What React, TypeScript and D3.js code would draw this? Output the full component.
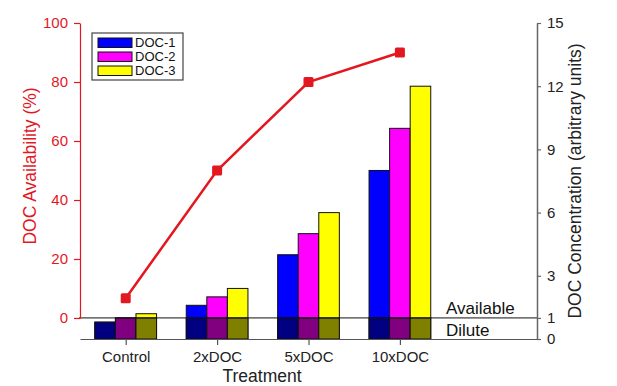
import { useEffect, useRef } from 'react';
import * as d3 from 'd3';

const categories = ['Control', '2xDOC', '5xDOC', '10xDOC'];
const seriesNames = ['DOC-1', 'DOC-2', 'DOC-3'];
const doc1 = [0.8, 1.6, 4, 8];
const doc2 = [1.0, 2.0, 5, 10];
const doc3 = [1.2, 2.4, 6, 12];
const availability = [6.7, 50, 80, 90];
const leftTicks = [0, 20, 40, 60, 80, 100];
const rightTicks = [0, 1, 3, 6, 9, 12, 15];
const diluteLimit = 1;

const brightColors = ['#0000ff', '#ff00ff', '#ffff00'];
const darkColors = ['#000080', '#800080', '#808000'];
const red = '#e3171f';
const font = '"Liberation Sans", Arial, Helvetica, sans-serif';

export default function App() {
  const svgRef = useRef<SVGSVGElement>(null);

  useEffect(() => {
    if (!svgRef.current) return;
    const svg = d3.select(svgRef.current);
    svg.selectAll('*').remove();

    const series = [doc1, doc2, doc3];

    const x = d3.scaleLinear().domain([-0.5, categories.length + 0.5]).range([80, 537]);
    const step = x(1) - x(0);
    const inner = d3.scaleBand<number>().domain([0, 1, 2]).range([-step * 0.3375, step * 0.3375]).padding(0);
    const yL = d3.scaleLinear().domain([0, 100]).range([318, 23]);
    const yR = d3.scaleLinear().domain([0, 15]).range([339, 23]);

    // bars, with the part under the dilute limit drawn dark
    const bars = svg.append('g');
    series.forEach((vals, j) => {
      vals.forEach((v, i) => {
        const bx = x(i) + inner(j)!;
        bars.append('rect')
          .attr('x', bx)
          .attr('y', yR(v))
          .attr('width', inner.bandwidth())
          .attr('height', yR(0) - yR(v))
          .attr('fill', brightColors[j])
          .attr('stroke', '#111')
          .attr('stroke-width', 1);
        const low = Math.min(v, diluteLimit);
        bars.append('rect')
          .attr('x', bx)
          .attr('y', yR(low))
          .attr('width', inner.bandwidth())
          .attr('height', yR(0) - yR(low))
          .attr('fill', darkColors[j])
          .attr('stroke', '#111')
          .attr('stroke-width', 1);
      });
    });

    svg.append('line')
      .attr('x1', 79).attr('x2', 537)
      .attr('y1', yR(diluteLimit)).attr('y2', yR(diluteLimit))
      .attr('stroke', '#111').attr('stroke-width', 1);

    svg.append('text')
      .attr('x', 446).attr('y', yR(diluteLimit) - 4)
      .attr('font-family', font).attr('font-size', 17).attr('fill', '#111')
      .text('Available');
    svg.append('text')
      .attr('x', 446).attr('y', yR(0) - 3)
      .attr('font-family', font).attr('font-size', 17).attr('fill', '#111')
      .text('Dilute');

    // left axis
    const gL = svg.append('g')
      .attr('transform', 'translate(80,0)')
      .call(d3.axisLeft(yL).tickValues(leftTicks).tickSize(6).tickSizeOuter(0).tickPadding(6));
    gL.select('.domain').attr('stroke', red).attr('stroke-width', 1.2);
    gL.selectAll('.tick line').attr('stroke', red).attr('stroke-width', 1.2);
    gL.selectAll('.tick text').attr('fill', red).attr('font-size', 15).attr('font-family', font);

    // right axis
    const gR = svg.append('g')
      .attr('transform', 'translate(537,0)')
      .call(d3.axisRight(yR).tickValues(rightTicks).tickSize(4).tickSizeOuter(0).tickPadding(6));
    gR.select('.domain').attr('stroke', '#666').attr('stroke-width', 1.5);
    gR.selectAll('.tick line').attr('stroke', '#666').attr('stroke-width', 1.2);
    gR.selectAll('.tick text').attr('fill', '#222').attr('font-size', 15).attr('font-family', font);

    // bottom axis
    const gB = svg.append('g')
      .attr('transform', `translate(0,${yR(0)})`)
      .call(d3.axisBottom(x).tickValues(d3.range(categories.length))
        .tickFormat((d) => categories[+d]).tickSize(6).tickSizeOuter(0).tickPadding(6));
    gB.select('.domain').attr('stroke', '#555').attr('stroke-width', 1.2);
    gB.selectAll('.tick line').attr('stroke', '#555').attr('stroke-width', 1.2);
    gB.selectAll('.tick text').attr('fill', '#222').attr('font-size', 15).attr('font-family', font);

    // axis titles
    svg.append('text')
      .attr('transform', 'translate(36,166) rotate(-90)')
      .attr('text-anchor', 'middle')
      .attr('font-family', font).attr('font-size', 17.5).attr('fill', red)
      .text('DOC Availability (%)');
    svg.append('text')
      .attr('transform', 'translate(581,181) rotate(-90)')
      .attr('text-anchor', 'middle')
      .attr('font-family', font).attr('font-size', 17.5).attr('fill', '#222')
      .text('DOC Concentration (arbitrary units)');
    svg.append('text')
      .attr('x', 262).attr('y', 382)
      .attr('text-anchor', 'middle')
      .attr('font-family', font).attr('font-size', 17.5).attr('fill', '#222')
      .text('Treatment');

    // availability line
    const line = d3.line<number>().x((_, i) => x(i)).y((d) => yL(d));
    svg.append('path')
      .datum(availability)
      .attr('d', line)
      .attr('fill', 'none')
      .attr('stroke', red)
      .attr('stroke-width', 2.5);
    svg.append('g').selectAll('rect')
      .data(availability)
      .join('rect')
      .attr('x', (_, i) => x(i) - 5)
      .attr('y', (d) => yL(d) - 5)
      .attr('width', 10).attr('height', 10)
      .attr('rx', 1.5)
      .attr('fill', red);

    // legend
    const lg = svg.append('g').attr('transform', 'translate(92,33)');
    lg.append('rect')
      .attr('width', 91).attr('height', 47)
      .attr('fill', '#fff').attr('stroke', '#444').attr('stroke-width', 1.2);
    seriesNames.forEach((name, j) => {
      lg.append('rect')
        .attr('x', 6).attr('y', 5 + j * 14)
        .attr('width', 34).attr('height', 9.5)
        .attr('fill', brightColors[j]).attr('stroke', '#111').attr('stroke-width', 1);
      lg.append('text')
        .attr('x', 43).attr('y', 14 + j * 14)
        .attr('font-family', font).attr('font-size', 13).attr('fill', '#111')
        .text(name);
    });
  }, []);

  return (
    <svg
      ref={svgRef}
      width={617}
      height={386}
      style={{ position: 'absolute', left: 0, top: 0, background: '#fff' }}
    />
  );
}
